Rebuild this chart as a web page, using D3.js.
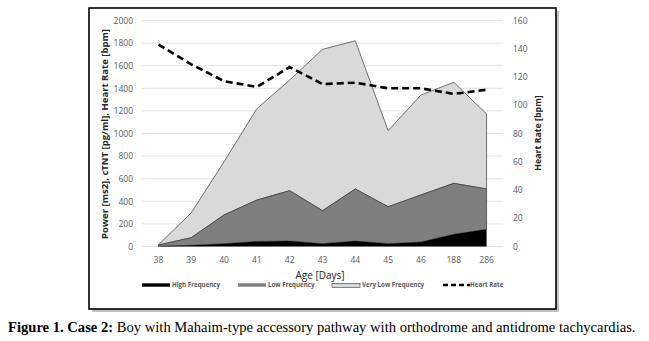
<!DOCTYPE html>
<html><head><meta charset="utf-8">
<script src="https://cdn.jsdelivr.net/npm/d3@7"></script>
<style>body{margin:0;background:#fff}svg{display:block}</style>
</head><body>
<svg id="c" width="649" height="341"></svg>
<script>
const categories = ["38","39","40","41","42","43","44","45","46","188","286"];
const highFreq = [3, 10, 25, 45, 49, 25, 49, 25, 40, 108, 152];
const lowFreq = [10, 68, 254, 366, 445, 292, 460, 327, 416, 451, 357];
const veryLowFreq = [2, 220, 471, 809, 979, 1428, 1312, 673, 885, 894, 664];
const heartRate = [143, 129, 117, 113, 127, 115, 116, 112, 112, 108, 111];
const leftTicks = [0,200,400,600,800,1000,1200,1400,1600,1800,2000];
const rightTicks = [0,20,40,60,80,100,120,140,160];
const seriesNames = ["High Frequency","Low Frequency","Very Low Frequency","Heart Rate"];

const svg = d3.select("#c");
const pL = 142, pR = 503, pT = 20.5, pB = 246.5;

// frame shadow + box
svg.append("rect").attr("x",92).attr("y",11).attr("width",467).attr("height",301).attr("fill","#9a9a9a").attr("opacity",0.6);
svg.append("rect").attr("x",89).attr("y",8).attr("width",467).attr("height",301).attr("fill","#fff").attr("stroke","#000").attr("stroke-width",1.6);

const x = d3.scaleBand().domain(categories).range([pL,pR]);
const cx = d => x(d) + x.bandwidth()/2;
const y = d3.scaleLinear().domain([0,2000]).range([pB,pT]);
const y2 = d3.scaleLinear().domain([0,160]).range([pB,pT]);

// gridlines
svg.append("g").selectAll("line").data(leftTicks).join("line")
  .attr("x1",pL).attr("x2",pR).attr("y1",d=>y(d)).attr("y2",d=>y(d))
  .attr("stroke","#e4e4e4").attr("stroke-width",1);

const rows = categories.map((c,i)=>({cat:c, hf:highFreq[i], lf:lowFreq[i], vlf:veryLowFreq[i]}));
const stack = d3.stack().keys(["hf","lf","vlf"])(rows);
const fills = ["#000000","#7f7f7f","#d9d9d9"];
const area = d3.area().x(d=>cx(d.data.cat)).y0(d=>y(d[0])).y1(d=>y(d[1]));
svg.append("g").selectAll("path").data(stack.slice().reverse()).join("path")
  .attr("d",area).attr("fill",(d)=>fills[d.index])
  .attr("stroke",(d)=> d.index===0 ? "none" : "#3a3a3a").attr("stroke-width",0.7);

// heart rate
const line = d3.line().x((d,i)=>cx(categories[i])).y(d=>y2(d));
svg.append("path").datum(heartRate).attr("d",line).attr("fill","none")
  .attr("stroke","#000").attr("stroke-width",2.6).attr("stroke-dasharray","7,4");

// axes
const fontTick = "'Open Sans', 'Liberation Sans', sans-serif";
const ax = svg.append("g").attr("transform",`translate(${pL-4},0)`)
  .call(d3.axisLeft(y).tickValues(leftTicks).tickFormat(d3.format("d")).tickSize(0).tickPadding(5));
ax.select(".domain").remove();
ax.selectAll("text").attr("font-family",fontTick).attr("font-size",8.5).attr("fill","#595959");

const ax2 = svg.append("g").attr("transform",`translate(${pR+6},0)`)
  .call(d3.axisRight(y2).tickValues(rightTicks).tickFormat(d3.format("d")).tickSize(0).tickPadding(4));
ax2.select(".domain").remove();
ax2.selectAll("text").attr("font-family",fontTick).attr("font-size",8.5).attr("fill","#595959");

const axb = svg.append("g").attr("transform",`translate(0,${pB+7})`)
  .call(d3.axisBottom(x).tickSize(0).tickPadding(3));
axb.select(".domain").remove();
axb.selectAll("text").attr("font-family",fontTick).attr("font-size",8.5).attr("fill","#595959");

// titles
svg.append("text").attr("x",320).attr("y",278.5).attr("text-anchor","middle")
  .attr("font-family",fontTick).attr("font-size",10).attr("fill","#262626").text("Age [Days]");
svg.append("text").attr("transform","translate(108,134) rotate(-90)").attr("text-anchor","middle")
  .attr("font-family",fontTick).attr("font-size",9.5).attr("font-weight","bold").attr("fill","#262626")
  .text("Power [ms2], cTNT [pg/ml], Heart Rate [bpm]");
svg.append("text").attr("transform","translate(541,133) rotate(-90)").attr("text-anchor","middle")
  .attr("font-family",fontTick).attr("font-size",8.8).attr("font-weight","bold").attr("fill","#262626")
  .text("Heart Rate [bpm]");

// legend
const lg = svg.append("g");
const ly = 285;
const items = [
  {x:142, type:"rect", fill:"#000", stroke:"none"},
  {x:238, type:"rect", fill:"#7f7f7f", stroke:"none"},
  {x:332, type:"rect", fill:"#d9d9d9", stroke:"#3a3a3a"},
  {x:443, type:"line"}
];
items.forEach((it,i)=>{
  if(it.type==="rect"){
    lg.append("rect").attr("x",it.x).attr("y",ly-1.7).attr("width",28).attr("height",it.stroke==="none"?3.4:4)
      .attr("fill",it.fill).attr("stroke",it.stroke).attr("stroke-width",0.6);
  } else {
    lg.append("line").attr("x1",it.x).attr("x2",it.x+27).attr("y1",ly).attr("y2",ly)
      .attr("stroke","#000").attr("stroke-width",2.4).attr("stroke-dasharray","5,3");
  }
  lg.append("text").attr("x",it.x+(it.type==="line"?27:30)).attr("y",ly+2.3)
    .attr("font-family",fontTick).attr("font-size",6.2).attr("font-weight","bold").attr("fill","#595959")
    .text(seriesNames[i]);
});

// caption
const cap = svg.append("text").attr("x",8).attr("y",332)
  .attr("font-family","'Liberation Serif','Times New Roman',serif").attr("font-size",14.6).attr("fill","#000");
cap.append("tspan").attr("font-weight","bold").text("Figure 1. Case 2: ");
cap.append("tspan").text("Boy with Mahaim-type accessory pathway with orthodrome and antidrome tachycardias.");
</script>
</body></html>
